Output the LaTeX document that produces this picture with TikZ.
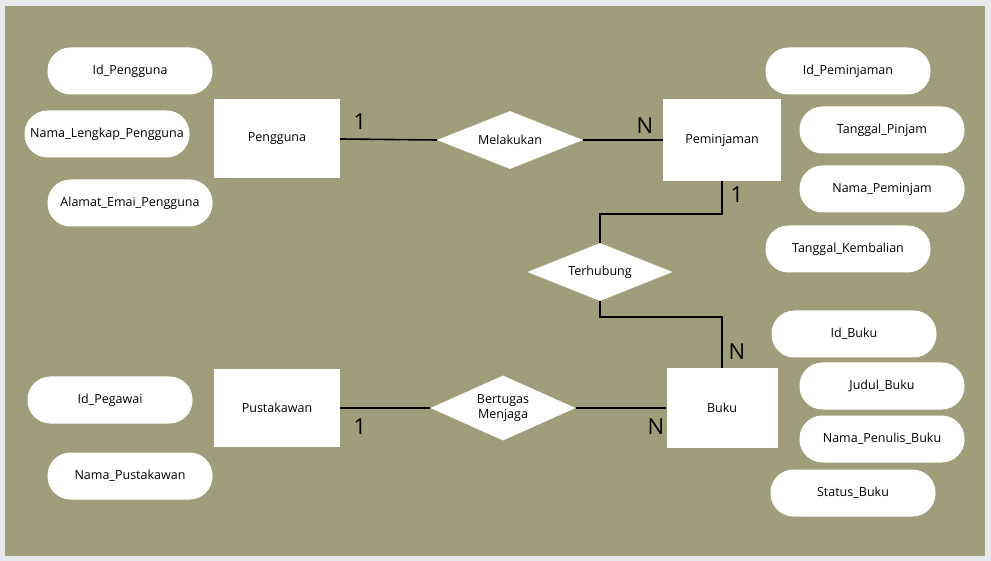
\documentclass[tikz,border=0pt]{standalone}
\usepackage{fontspec}
\setmainfont{Open Sans}
\usetikzlibrary{shapes.geometric}
\definecolor{olivebg}{HTML}{A09E7A}
\definecolor{framegray}{HTML}{E8E9ED}
\tikzset{
  entity/.style={fill=white,minimum width=126pt,minimum height=79pt,inner sep=0pt},
  relation/.style={diamond,fill=white,aspect=2.5,minimum width=146pt,minimum height=58pt,inner sep=0pt,align=center},
  attr/.style={fill=white,rounded corners=23pt,minimum width=165pt,minimum height=47pt,inner sep=0pt},
  card/.style={font=\fontsize{22}{24}\selectfont},
  link/.style={line width=1.6pt}
}
\begin{document}
\begin{tikzpicture}[x=1pt,y=-1pt,font=\fontsize{12.5}{15}\selectfont]
      \fill[framegray] (0,0) rectangle (991,561);
      \fill[olivebg] (5,6) rectangle (985,556);
      % entities
      \node[entity] (pengguna) at (277,139) {Pengguna};
      \node[entity,minimum width=118pt,minimum height=82pt] (peminjaman) at (722,140) {Peminjaman};
      \node[entity,minimum width=111pt] (buku) at (722,408) {Buku};
      \node[entity,minimum height=77pt] (pustakawan) at (277,408) {Pustakawan};
      % relations
      \node[relation] (melakukan) at (510,140) {Melakukan};
      \node[relation,minimum width=145pt] (terhubung) at (600,272) {Terhubung};
      \node[relation,minimum width=145pt,minimum height=65pt] (bertugas) at (503,408) {Bertugas\\Menjaga};
      % attributes
      \foreach \n/\x/\y/\t in {idpengguna/130/71/Id\_Pengguna, namalengkap/107/134/Nama\_Lengkap\_Pengguna,
        alamat/130/203/Alamat\_Emai\_Pengguna, idpegawai/110/400/Id\_Pegawai, namapustakawan/130/476/Nama\_Pustakawan,
        idpeminjaman/848/71/Id\_Peminjaman, tglpinjam/882/130/Tanggal\_Pinjam, namapeminjam/882/189/Nama\_Peminjam,
        tglkembali/848/249/Tanggal\_Kembalian, idbuku/854/334/Id\_Buku, judul/882/386/Judul\_Buku,
        penulis/882/439/Nama\_Penulis\_Buku, status/853/493/Status\_Buku} {
        \node[attr] (\n) at (\x,\y) {\t};
      }
      % connectors
      \draw[link] (pengguna.east) -- (melakukan.west);
      \draw[link] (melakukan.east) -- (peminjaman.west);
      \draw[link] (peminjaman.south) -- ++(0,33) -| (terhubung.north);
      \draw[link] (terhubung.south) -- ++(0,16) -| (buku.north);
      \draw[link] (pustakawan.east) -- (bertugas.west);
      \draw[link] (bertugas.east) -- (buku.west);
      % cardinalities
      \node[card] (c1) at (360,122) {1};
      \node[card] (c2) at (645,126) {N};
      \node[card] (c3) at (737,195) {1};
      \node[card] (c4) at (737,352) {N};
      \node[card] (c5) at (360,427) {1};
      \node[card] (c6) at (656,427) {N};
\end{tikzpicture}
\end{document}
